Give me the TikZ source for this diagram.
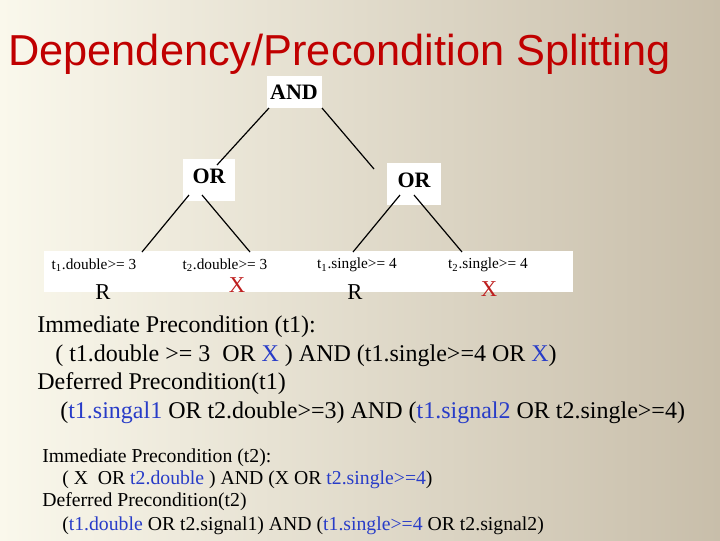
\documentclass[tikz,border=0pt]{standalone}
\usepackage{fontspec}
\setmainfont{Liberation Serif}
\newfontfamily\arialf{Liberation Sans}
\definecolor{bgl}{RGB}{250,248,236}
\definecolor{bgr}{RGB}{200,190,170}
\definecolor{ttl}{RGB}{192,0,0}
\definecolor{bl}{RGB}{40,60,200}
\definecolor{xr}{RGB}{190,30,30}
\begin{document}
\begin{tikzpicture}[x=0.75pt,y=-0.75pt,
  wbox/.style={fill=white,draw=none},
  gate/.style={font=\bfseries\fontsize{16.5}{18}\selectfont,inner sep=0pt},
  leaf/.style={font=\fontsize{11.5}{13}\selectfont,inner sep=0pt},
  rxmark/.style={font=\fontsize{17}{19}\selectfont,inner sep=0pt},
  big/.style={font=\fontsize{18}{21}\selectfont,anchor=base west,inner sep=0pt},
  small/.style={font=\fontsize{14.8}{17}\selectfont,anchor=base west,inner sep=0pt},
  edge/.style={black,line width=0.9pt}]
\useasboundingbox (0,0) rectangle (720,540);
\shade[left color=bgl,right color=bgr] (0,0) rectangle (720,540);
\node[anchor=base west,inner sep=0pt,text=ttl,font=\arialf\fontsize{32.5}{36}\selectfont] (title) at (8,65) {Dependency/Precondition Splitting};
% boxes
\fill[wbox] (267,76) rectangle (322,108);
\fill[wbox] (183,159) rectangle (235,201);
\fill[wbox] (387,163) rectangle (441,205);
\fill[wbox] (44,251) rectangle (573,292);
\node[gate] (and) at (294,92) {AND};
\node[gate] (orl) at (209,176) {OR};
\node[gate] (orr) at (414,180) {OR};
\node[leaf] (l1) at (94,265) {t\textsubscript{1}.double>= 3};
\node[leaf] (l2) at (225,265) {t\textsubscript{2}.double>= 3};
\node[leaf] (l3) at (357,265) {t\textsubscript{1}.single>= 4};
\node[leaf] (l4) at (488,265) {t\textsubscript{2}.single>= 4};
\node[rxmark] (m1) at (103,292) {R};
\node[rxmark,text=xr] (m2) at (237,285) {X};
\node[rxmark] (m3) at (355,292) {R};
\node[rxmark,text=xr] (m4) at (489,289) {X};
\coordinate (c1) at (269,108); \coordinate (c2) at (217,165);
\coordinate (c3) at (322,108); \coordinate (c4) at (374,169);
\draw[edge] (c1) -- (c2);
\draw[edge] (c3) -- (c4);
\coordinate (d1) at (189,195); \coordinate (d2) at (142,252);
\coordinate (d3) at (202,195); \coordinate (d4) at (250,252);
\coordinate (d5) at (400,195); \coordinate (d6) at (353,252);
\coordinate (d7) at (414,195); \coordinate (d8) at (462,252);
\draw[edge] (d1) -- (d2); \draw[edge] (d3) -- (d4);
\draw[edge] (d5) -- (d6); \draw[edge] (d7) -- (d8);
% text
\node[big] (b1) at (37,332) {Immediate Precondition (t1):};
\node[big] (b2) at (55,361) {( t1.double >= 3\ \ OR \textcolor{bl}{X} ) AND (t1.single>=4 OR \textcolor{bl}{X})};
\node[big] (b3) at (37,389) {Deferred Precondition(t1)};
\node[big] (b4) at (60,418) {(\textcolor{bl}{t1.singal1} OR t2.double>=3) AND (\textcolor{bl}{t1.signal2} OR t2.single>=4)};
\node[small] (s1) at (42,462) {Immediate Precondition (t2):};
\node[small] (s2) at (62,484) {( X\ \ OR \textcolor{bl}{t2.double} ) AND (X OR \textcolor{bl}{t2.single>=4})};
\node[small] (s3) at (42,506) {Deferred Precondition(t2)};
\node[small] (s4) at (62,530) {(\textcolor{bl}{t1.double} OR t2.signal1) AND (\textcolor{bl}{t1.single>=4} OR t2.signal2)};
\end{tikzpicture}
\end{document}
